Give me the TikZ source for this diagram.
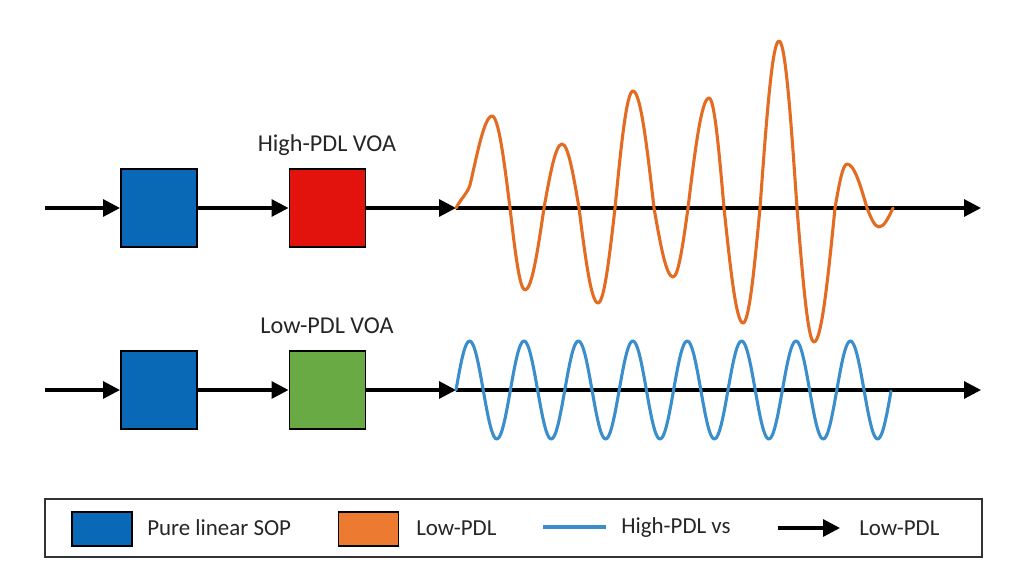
\documentclass[tikz,border=0pt]{standalone}
\usepackage{fontspec}
\setmainfont{Carlito}
\usetikzlibrary{arrows.meta}
\definecolor{sopblue}{HTML}{0A69B6}
\definecolor{voared}{HTML}{E2120C}
\definecolor{voagreen}{HTML}{6AAA45}
\definecolor{waveorange}{HTML}{E46B22}
\definecolor{legorange}{HTML}{EC7A30}
\definecolor{waveblue}{HTML}{3A8ECB}
\begin{document}
\begin{tikzpicture}[x=0.025cm, y=-0.025cm,
        box/.style={draw=black, line width=1.4pt, minimum width=1.9cm, minimum height=1.95cm, inner sep=0pt},
        legbox/.style={draw=black, line width=1pt, minimum width=1.5cm, minimum height=0.85cm, inner sep=0pt},
        arr/.style={line width=2.2pt, -{Triangle[length=0.42cm, width=0.42cm]}},
        lbl/.style={inner sep=0pt, text=black!85, font=\fontsize{16.3}{19}\selectfont},
        ttl/.style={inner sep=0pt, text=black!85, font=\fontsize{17.2}{20}\selectfont},
        wave/.style={line width=2.2pt, line join=round, line cap=round}]
        \useasboundingbox (0,0) rectangle (1024,585);
        \fill [white] (0,0) rectangle (1024,585);

        % top row
        \coordinate (inA) at (45,208);
        \node [box, fill=sopblue] (sopA) at (159,208) {};
        \node [box, fill=voared] (voaA) at (327.5,208) {};
        \coordinate (wA) at (456,208);
        \coordinate (endA) at (981,208);
        \draw [arr] (inA) -- (sopA);
        \draw [arr] (sopA) -- (voaA);
        \draw [arr] (voaA) -- (wA);
        \draw [arr] (wA) -- (endA);
        \node [ttl] (hiLbl) at (327,145) {High-PDL VOA};
        \draw [wave, waveorange] (wA) .. controls (462,197) and (467,194) .. (470,185)
            .. controls (476,160) and (484,116) .. (492,116) cos (510,208) sin (525,290) cos (544,208)
            sin (562,144) cos (579,208) sin (598,303) cos (615,208)
            sin (633,91) cos (654,208) sin (673,277) cos (688,208)
            sin (709,98) cos (724,208) sin (743,323) cos (760,208)
            sin (779,41) cos (797,208) sin (814,342) cos (835,208)
            sin (847,164) cos (867,208) sin (879,227) cos (893,208);

        % bottom row
        \coordinate (inB) at (45,390);
        \node [box, fill=sopblue] (sopB) at (159,390) {};
        \node [box, fill=voagreen] (voaB) at (327.5,390) {};
        \coordinate (wB) at (456,390);
        \coordinate (endB) at (981,390);
        \draw [arr] (inB) -- (sopB);
        \draw [arr] (sopB) -- (voaB);
        \draw [arr] (voaB) -- (wB);
        \draw [arr] (wB) -- (endB);
        \node [ttl] (loLbl) at (327,326) {Low-PDL VOA};
        \draw [wave, waveblue] plot [domain=456:891, samples=320, smooth] (\x, {390-49*sin(6.6176*(\x-456))});

        % legend
        \draw [line width=1pt, draw=black!80] (45,499) rectangle (982,557);
        \node [legbox, fill=sopblue] (legSop) at (102,529) {};
        \node [lbl, anchor=west] (legSopTxt) at (147,528) {Pure linear SOP};
        \node [legbox, fill=legorange] (legLow) at (368.5,529) {};
        \node [lbl, anchor=west] (legLowTxt) at (416,528) {Low-PDL};
        \coordinate (legLineA) at (543,527);
        \coordinate (legLineB) at (606,527);
        \draw [waveblue, line width=2.6pt] (legLineA) -- (legLineB);
        \node [lbl, anchor=west] (legHighTxt) at (621,528) {High-PDL vs};
        \coordinate (legArrA) at (778,528);
        \coordinate (legArrB) at (840,528);
        \draw [arr] (legArrA) -- (legArrB);
        \node [lbl, anchor=west] (legArrTxt) at (859,528) {Low-PDL};
    \end{tikzpicture}
\end{document}
